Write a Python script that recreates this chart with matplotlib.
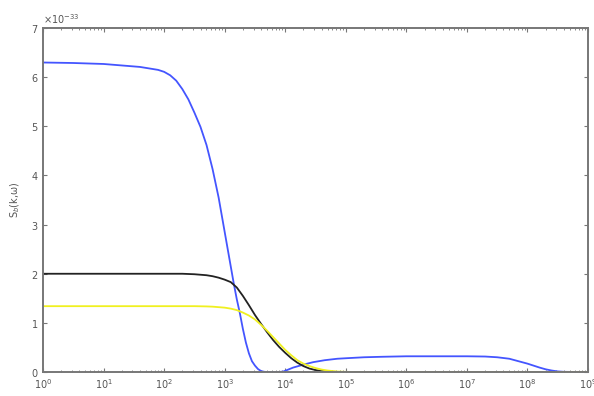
import numpy as np
import matplotlib
matplotlib.use("Agg")
import matplotlib.pyplot as plt
from matplotlib.ticker import ScalarFormatter, LogLocator

# === Data (log10 of omega, S in units of 1e-33) ===
blue_logw = [0.0, 0.5, 1.0, 1.5, 1.6, 1.7, 1.8, 1.9, 2.0, 2.1, 2.2, 2.3, 2.4, 2.5,
             2.6, 2.7, 2.8, 2.9, 3.0, 3.05, 3.1, 3.15, 3.2, 3.25, 3.3, 3.35, 3.4,
             3.45, 3.5, 3.55, 3.6, 3.65, 3.7, 3.9, 3.97, 4.05, 4.13, 4.3, 4.46,
             4.65, 4.86, 5.0, 5.3, 5.6, 6.0, 7.0, 7.3, 7.5, 7.7, 7.85, 8.0, 8.1,
             8.2, 8.3, 8.4, 8.5, 8.6, 8.8, 9.0]
blue_s = [6.30, 6.29, 6.27, 6.22, 6.21, 6.19, 6.17, 6.15, 6.11, 6.04, 5.93, 5.76,
          5.55, 5.28, 4.99, 4.62, 4.13, 3.55, 2.85, 2.50, 2.15, 1.80, 1.48, 1.20,
          0.88, 0.60, 0.38, 0.22, 0.13, 0.06, 0.02, 0.005, 0.0, 0.0, 0.01, 0.05,
          0.09, 0.15, 0.20, 0.24, 0.27, 0.28, 0.30, 0.31, 0.32, 0.32, 0.315, 0.30,
          0.27, 0.22, 0.17, 0.13, 0.09, 0.055, 0.03, 0.012, 0.004, 0.0, 0.0]

black_logw = [0.0, 1.0, 2.0, 2.3, 2.5, 2.6, 2.7, 2.8, 2.9, 3.0, 3.1, 3.2, 3.3, 3.4,
              3.5, 3.6, 3.7, 3.8, 3.9, 4.0, 4.1, 4.2, 4.3, 4.4, 4.5, 4.6, 4.7,
              4.85, 5.0, 9.0]
black_s = [2.00, 2.00, 2.00, 2.00, 1.99, 1.98, 1.97, 1.95, 1.92, 1.88, 1.83, 1.72,
           1.55, 1.36, 1.16, 0.98, 0.81, 0.65, 0.51, 0.39, 0.28, 0.19, 0.12, 0.07,
           0.04, 0.02, 0.008, 0.002, 0.0, 0.0]

yellow_logw = [0.0, 1.0, 2.0, 2.5, 2.7, 2.8, 2.9, 3.0, 3.1, 3.2, 3.3, 3.4, 3.5,
               3.6, 3.7, 3.8, 3.9, 4.0, 4.1, 4.2, 4.3, 4.4, 4.5, 4.6, 4.7, 4.85,
               5.0, 5.2, 9.0]
yellow_s = [1.34, 1.34, 1.34, 1.34, 1.335, 1.33, 1.32, 1.31, 1.29, 1.26, 1.21,
            1.15, 1.07, 0.96, 0.84, 0.71, 0.58, 0.45, 0.34, 0.24, 0.17, 0.12,
            0.08, 0.05, 0.03, 0.01, 0.003, 0.0, 0.0]

SCALE = 1e-33


def main():
    fig = plt.figure(figsize=(5.94, 3.96), dpi=100)
    ax = fig.add_axes([0.0724, 0.0606, 0.9176, 0.8684])

    ax.plot(10 ** np.array(blue_logw), np.array(blue_s) * SCALE, color="#4455ff", lw=1.3)
    ax.plot(10 ** np.array(black_logw), np.array(black_s) * SCALE, color="#222222", lw=1.3)
    ax.plot(10 ** np.array(yellow_logw), np.array(yellow_s) * SCALE, color="#f0f020", lw=1.3)

    ax.set_xscale("log")
    ax.set_xlim(1e0, 1e9)
    ax.set_ylim(0, 7e-33)
    ax.set_yticks(np.arange(0, 8) * SCALE)

    fmt = ScalarFormatter(useMathText=True)
    fmt.set_powerlimits((0, 0))
    ax.yaxis.set_major_formatter(fmt)
    ax.yaxis.get_offset_text().set_fontsize(7)
    ax.yaxis.get_offset_text().set_color("#555555")

    ax.xaxis.set_major_locator(LogLocator(base=10, numticks=12))
    ax.xaxis.set_minor_locator(LogLocator(base=10, subs=np.arange(2, 10), numticks=12))

    for sp in ax.spines.values():
        sp.set_color("#777777")
        sp.set_linewidth(1.4)
    ax.tick_params(which="both", direction="in", top=True, right=True,
                   colors="#777777", labelcolor="#555555", labelsize=7)
    ax.tick_params(which="major", length=3)
    ax.tick_params(which="minor", length=1.5)

    ax.set_ylabel(r"S$_b$(k,ω)", fontsize=7, color="#555555", labelpad=6)
    ax.set_xlabel("ω [1/s]", fontsize=7, color="#555555", labelpad=3)

    fig.savefig("out.png", dpi=100)
    plt.close(fig)


if __name__ == "__main__":
    main()
